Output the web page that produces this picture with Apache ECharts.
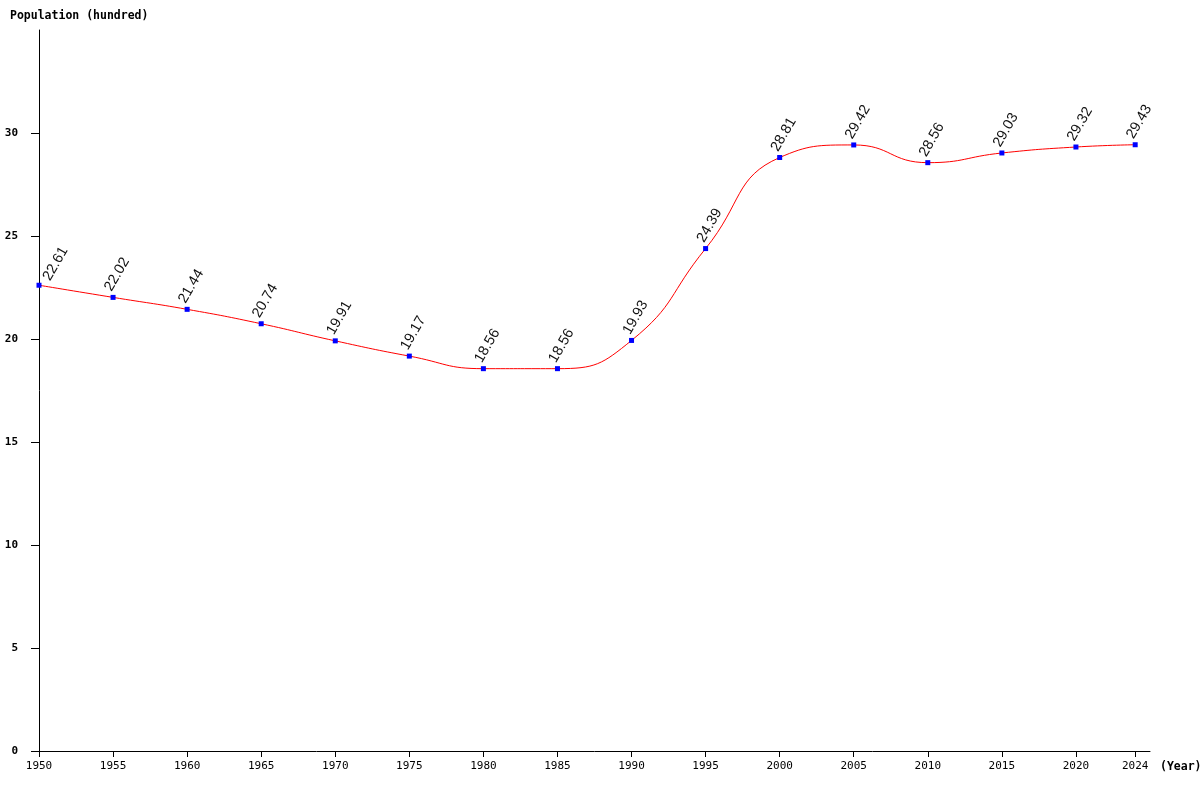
<!DOCTYPE html>
<html><head><meta charset="utf-8">
<script src="https://cdn.jsdelivr.net/npm/echarts@6/dist/echarts.min.js"></script>
<style>html,body{margin:0;padding:0;background:#fff}#c{width:1200px;height:800px}</style>
</head><body><div id="c"></div>
<script>
const years = [1950,1955,1960,1965,1970,1975,1980,1985,1990,1995,2000,2005,2010,2015,2020,2024];
const population = [22.61,22.02,21.44,20.74,19.91,19.17,18.56,18.56,19.93,24.39,28.81,29.42,28.56,29.03,29.32,29.43];
const yTicks = [0,5,10,15,20,25,30];

const chart = echarts.init(document.getElementById('c'));
const mono = '"DejaVu Sans Mono", "Liberation Mono", monospace';
const seriesData = years.map((y,i)=>{
  const item = {value:[y,population[i]]};
  if (i === 0) item.label = {position:[19,-19]};
  return item;
});
chart.setOption({
  animation:false,
  backgroundColor:'#fff',
  grid:{left:39,right:50,top:30,bottom:49},
  graphic:[
    {type:'text',left:10,top:10,style:{text:'Population (hundred)',font:'bold 11.5px '+mono,fill:'#000'}},
    {type:'text',left:1160,top:761,style:{text:'(Year)',font:'bold 11.5px '+mono,fill:'#000'}}
  ],
  xAxis:{type:'value',min:1950,max:2025,
    axisLine:{onZero:false,lineStyle:{color:'#000',width:1}},
    axisTick:{show:true,length:6,customValues:years,lineStyle:{color:'#000'}},
    axisLabel:{customValues:years,margin:10,fontFamily:mono,fontSize:11,color:'#000',formatter:v=>String(v)},
    splitLine:{show:false}},
  yAxis:{type:'value',min:0,max:35,
    axisLine:{show:true,lineStyle:{color:'#000'}},
    axisTick:{show:true,length:8,customValues:yTicks,lineStyle:{color:'#000'}},
    axisLabel:{customValues:yTicks,margin:21,fontFamily:mono,fontWeight:'bold',fontSize:11,color:'#000'},
    splitLine:{show:false}},
  series:[{
    type:'line',smooth:0.5,
    data:seriesData,
    lineStyle:{color:'#ff0000',width:1},
    symbol:'rect',symbolSize:5,
    itemStyle:{color:'#0000ff'},
    label:{show:true,position:[6.5,-20.5],rotate:60,align:'center',verticalAlign:'middle',
      fontFamily:'"Liberation Sans", Arial, sans-serif',fontSize:14.5,color:'#111',formatter:p=>p.value[1].toFixed(2)}
  }]
});
</script></body></html>
